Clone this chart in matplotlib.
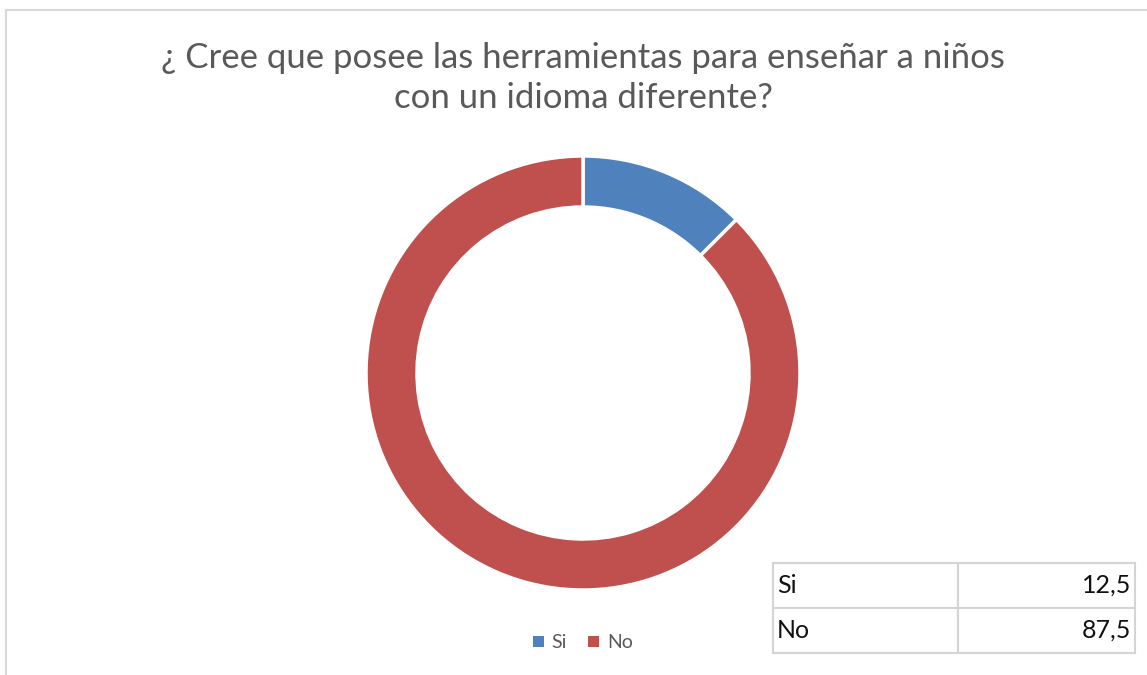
import matplotlib
matplotlib.use('Agg')
import matplotlib.pyplot as plt
from matplotlib.lines import Line2D
from matplotlib.patches import Patch

plt.rcParams['font.family'] = ['Lato', 'DejaVu Sans']

# data
categories = ['Si', 'No']
values = [12.5, 87.5]
value_labels = ['12,5', '87,5']
colors = ['#4F81BD', '#C0504D']
title = '¿ Cree que posee las herramientas para enseñar a niños\ncon un idioma diferente?'

W, H = 1147, 675
fig = plt.figure(figsize=(W / 100, H / 100), dpi=100)

# chart frame (light gray border, top and left visible)
border = '#D9D9D9'
fig.add_artist(Line2D([6 / W, 6 / W], [0, 1 - 10 / H], color=border, lw=1.5))
fig.add_artist(Line2D([6 / W, 1], [1 - 10 / H, 1 - 10 / H], color=border, lw=1.5))

# donut
cx, cy, r = 583, 373, 217
ax = fig.add_axes([(cx - r) / W, (H - cy - r) / H, 2 * r / W, 2 * r / H])
ax.pie(values, colors=colors, startangle=90, counterclock=False, radius=1,
       wedgeprops=dict(width=51 / 217, edgecolor='white', linewidth=2.5))
ax.set_xlim(-1, 1)
ax.set_ylim(-1, 1)
ax.set_aspect('equal')
ax.axis('off')

fig.text(583 / W, 1 - 78 / H, title, ha='center', va='center', fontsize=25,
         color='#595959', linespacing=1.3)

# legend
handles = [Patch(facecolor=c, edgecolor='none') for c in colors]
fig.legend(handles, categories, loc='center', bbox_to_anchor=(583 / W, 1 - 643 / H),
           ncol=2, frameon=False, fontsize=14, labelcolor='#595959',
           handlelength=0.55, handleheight=0.55, handletextpad=0.4, columnspacing=1.1)

# data table
tx0, ty0, tx1, ty1 = 773, 563, 1135, 653
tax = fig.add_axes([tx0 / W, (H - ty1) / H, (tx1 - tx0) / W, (ty1 - ty0) / H])
tax.axis('off')
cell_text = [[c, v] for c, v in zip(categories, value_labels)]
tbl = tax.table(cellText=cell_text, bbox=[0, 0, 1, 1], colWidths=[185, 177],
                cellLoc='left')
tbl.auto_set_font_size(False)
for (row, col), cell in tbl.get_celld().items():
    cell.set_edgecolor('#D4D4D4')
    cell.set_linewidth(1.5)
    cell.get_text().set_fontsize(18)
    cell.get_text().set_color('#111111')
    if col == 1:
        cell.get_text().set_ha('right')
        cell._loc = 'right'
    cell.PAD = 0.02

fig.savefig('out.png', dpi=100, facecolor='white')
